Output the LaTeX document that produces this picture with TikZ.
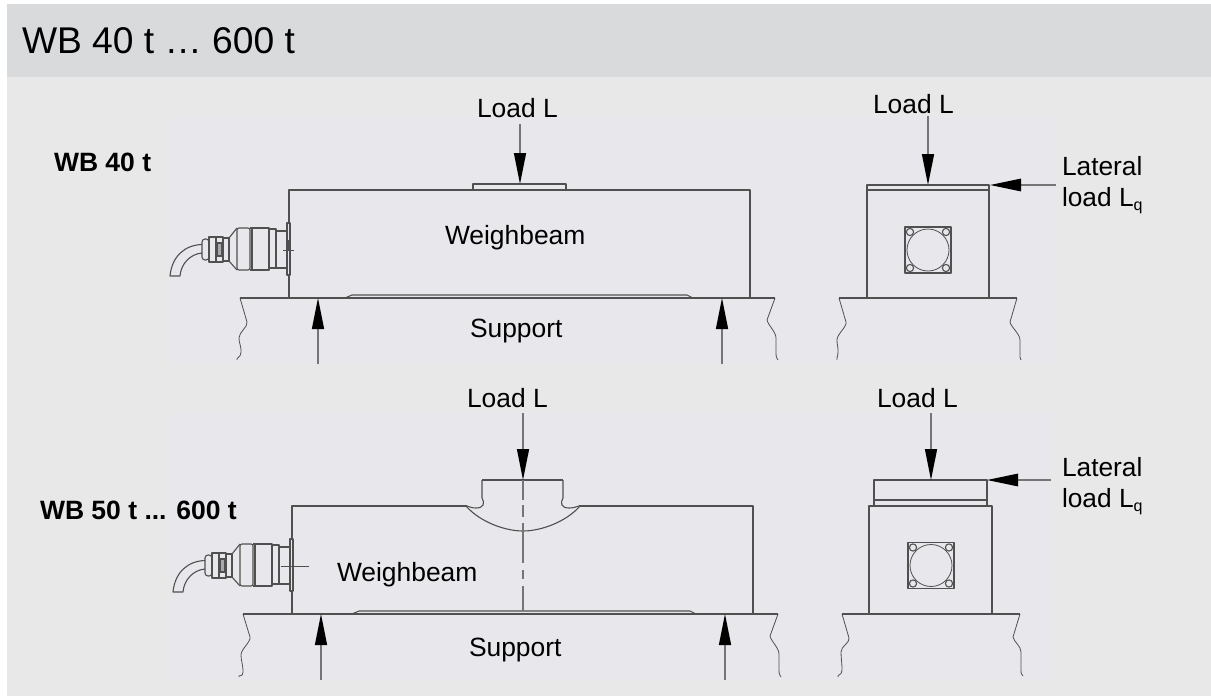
\documentclass[tikz,border=0pt]{standalone}
\usepackage{fontspec}
\setmainfont{Liberation Sans}
\usetikzlibrary{arrows.meta}
\definecolor{hdr}{HTML}{D9DADC}
\definecolor{bodybg}{HTML}{E8E8E8}
\definecolor{inner}{HTML}{E8E8EC}
\definecolor{ln}{HTML}{505050}
\definecolor{stem}{HTML}{757575}
\tikzset{
  part/.style={draw=ln,line width=1.1pt,line join=round},
  thin part/.style={draw=ln,line width=.8pt},
  force/.style={draw=stem,line width=1.4pt,-{Triangle[length=31pt,width=12pt,black]}},
  sideforce/.style={draw=stem,line width=1.4pt,-{Triangle[length=31pt,width=12.5pt,black]}},
  lbl/.style={anchor=base west,inner sep=0pt,outer sep=0pt,font=\fontsize{26.4}{30}\selectfont},
  blbl/.style={anchor=base west,inner sep=0pt,outer sep=0pt,font=\fontsize{26.5}{30}\selectfont\bfseries},
  ttl/.style={anchor=base west,inner sep=0pt,outer sep=0pt,font=\fontsize{37.2}{40}\selectfont},
  lat/.style={anchor=north west,align=left,inner sep=0pt,outer sep=0pt,font=\fontsize{26.3}{31}\selectfont},
}
\newcommand{\cableconn}{%
  \draw[part,fill=inner] (287,223) rectangle (290,275);
  \draw[part] (276,231) rectangle (287,268);
  \draw[part] (269,229) rectangle (276,268);
  \draw[part] (252,228) rectangle (269,270);
  \draw[part,rounded corners=2pt] (237,228) rectangle (250,270);
  \draw[part] (250,228) -- (252,228) (250,270) -- (252,270);
  \draw[part] (237,228) -- (229,238) -- (229,261) -- (237,270);
  \draw[part] (223,238) rectangle (229,261);
  \draw[part] (216,237) rectangle (223,262);
  \draw[part,fill=stem!55!inner] (217,243) rectangle (222,256);
  \draw[part] (209,237) rectangle (216,262);
  \draw[part,rounded corners=3pt] (202,239) rectangle (209,260);
  \draw[part] (202,244.5) .. controls (185,245) and (172,256) .. (170,276) -- (180,276)
     .. controls (181,264) and (190,254) .. (202,253);
}
\newcommand{\wave}[5]{\draw[thin part] (#1) -- (#2) .. controls +(1,5) and +(0,-6) .. (#3) .. controls +(0,6) and +(0,-8) .. (#4) .. controls +(0,6) and +(-1,-3) .. (#5);}
\newcommand{\mountface}[2]{%
  \begin{scope}[shift={(#1,#2)}]
    \draw[part] (-23,-23) rectangle (23,23);
    \draw[thin part] (0,0) circle (21);
    \foreach \a/\b in {-18/-18,18/-18,-18/18,18/18}{\draw[part,fill=inner] (\a,\b) circle (3.6);}
  \end{scope}}
\begin{document}
\begin{tikzpicture}[x=1pt,y=-1pt]
\useasboundingbox (0,0) rectangle (1211,696);
\fill[white] (0,0) rectangle (1211,696);
\fill[bodybg] (7,77) rectangle (1211,696);
\fill[hdr] (7,4) rectangle (1211,77);
\fill[inner] (169,116) rectangle (1056,365);
\fill[inner] (171,413) rectangle (1052,681);
\node[ttl] (title) at (22,53) {WB 40 t … 600 t};
\node[blbl] (wb40) at (54,171) {WB 40 t};
\node[blbl] (wb50) at (40,519) {WB 50 t ... 600 t};
% --- upper front view
\draw[part] (289,190) rectangle (750,298);
\draw[part] (473,190) -- (473,184) -- (566,184) -- (566,190);
\draw[part] (240,298) -- (775,298);
\draw[part] (345,298) -- (352,295) -- (687,295) -- (693,298);
\wave{240,298}{247,322}{239,338}{241,352}{237,360}
\wave{775,298}{767,320}{776,338}{776,353}{778,360}
\cableconn
\draw[thin part] (283,250) -- (294,250) (288,240) -- (288,250);
\coordinate (a1s) at (520,124); \coordinate (a1e) at (520,184);
\coordinate (a2s) at (318,364); \coordinate (a2e) at (318,298);
\coordinate (a3s) at (722,364); \coordinate (a3e) at (722,298);
\draw[force] (a1s) -- (a1e);
\draw[force] (a2s) -- (a2e);
\draw[force] (a3s) -- (a3e);
\node[lbl] (l1) at (477,117) {Load L};
\node[lbl] (w1) at (445,244) {Weighbeam};
\node[lbl] (s1) at (470,337) {Support};
% --- upper side view
\draw[part] (867,190) rectangle (989,298);
\draw[part] (867,190) -- (867,185) -- (989,185) -- (989,190);
\draw[part] (839,298) -- (1017,298);
\wave{839,298}{846,322}{837,340}{838,352}{837,360}
\wave{1017,298}{1010,322}{1020,340}{1020,353}{1021,360}
\mountface{928}{250}
\coordinate (a4s) at (928,116); \coordinate (a4e) at (928,185);
\coordinate (a5s) at (1056,185); \coordinate (a5e) at (990,185);
\draw[force] (a4s) -- (a4e);
\draw[sideforce] (a5s) -- (a5e);
\node[lbl] (l2) at (873,113) {Load L};
\node[lat] (lat1) at (1062,156) {Lateral\\load L\raisebox{-.15em}{\fontsize{16}{16}\selectfont q}};
% --- lower front view
\draw[part] (467,506) -- (292,506) -- (292,614);
\draw[part] (579,506) -- (753,506) -- (753,614);
\draw[part] (243,614) -- (778,614);
\draw[part] (352,614) -- (359,611) -- (690,611) -- (696,614);
\wave{243,614}{250,637}{241,655}{243,672}{239,677}
\wave{778,614}{770,636}{779,654}{779,670}{781,677}
\begin{scope}[shift={(3,316)}]\cableconn\end{scope}
\draw[thin part] (281,566) -- (309,566);
\draw[part,line width=1.5pt] (482,480) -- (563,480);
\draw[part] (482,480) -- (482,498) .. controls (485,503) and (484,508) .. (476,508) .. controls (472,508) and (470,507) .. (467,506);
\draw[part] (563,480) -- (563,498) .. controls (560,503) and (561,508) .. (569,508) .. controls (573,508) and (576,507) .. (579,506);
\draw[part] (466,506) .. controls (480,522) and (505,531) .. (523,531) .. controls (541,531) and (566,522) .. (580,506);
\draw[draw=stem,line width=1.2pt,dash pattern=on 20pt off 5pt on 12pt off 6pt on 40pt off 7pt on 9pt off 7pt on 40pt] (523,480) -- (523,611);
\coordinate (b1s) at (523,413); \coordinate (b1e) at (523,480);
\coordinate (b2s) at (321,680); \coordinate (b2e) at (321,614);
\coordinate (b3s) at (725,680); \coordinate (b3e) at (725,614);
\draw[force] (b1s) -- (b1e);
\draw[force] (b2s) -- (b2e);
\draw[force] (b3s) -- (b3e);
\node[lbl] (l3) at (467,407) {Load L};
\node[lbl] (w2) at (337,581) {Weighbeam};
\node[lbl] (s2) at (469,656) {Support};
% --- lower side view
\draw[part] (869,614) -- (869,506) -- (992,506) -- (992,614);
\draw[part] (874,506) -- (874,480) -- (987,480) -- (987,506);
\draw[part] (874,500) -- (987,500);
\draw[part] (842,614) -- (1020,614);
\wave{842,614}{849,638}{841,652}{842,670}{838,677}
\wave{1020,614}{1013,637}{1021,652}{1021,670}{1023,676}
\mountface{931}{565.5}
\coordinate (b4s) at (931,413); \coordinate (b4e) at (931,480);
\coordinate (b5s) at (1051,480); \coordinate (b5e) at (987,480);
\draw[force] (b4s) -- (b4e);
\draw[sideforce] (b5s) -- (b5e);
\node[lbl] (l4) at (877,407) {Load L};
\node[lat] (lat2) at (1062,457) {Lateral\\load L\raisebox{-.15em}{\fontsize{16}{16}\selectfont q}};
\end{tikzpicture}
\end{document}
